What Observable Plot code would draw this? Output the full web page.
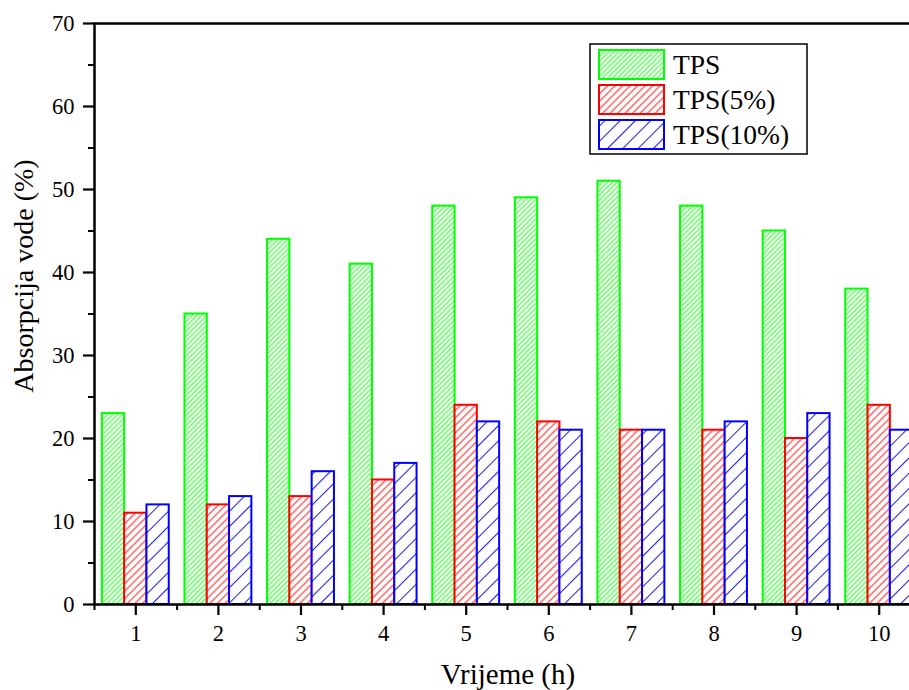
<!DOCTYPE html>
<html><head><meta charset="utf-8">
<script src="https://cdn.jsdelivr.net/npm/d3@7"></script>
<script src="https://cdn.jsdelivr.net/npm/@observablehq/plot@0.6"></script>
<style>html,body{margin:0;padding:0;overflow:hidden;background:#fff;width:909px;height:690px}
#chart svg{max-width:none !important;width:930px;height:690px}
#chart text{font-family:'Liberation Serif','Times New Roman',serif}</style>
</head><body><div id="chart"></div>
<script>
const hours = [1, 2, 3, 4, 5, 6, 7, 8, 9, 10];
const tps = [23, 35, 44, 41, 48, 49, 51, 48, 45, 38];
const tps5 = [11, 12, 13, 15, 24, 22, 21, 21, 20, 24];
const tps10 = [12, 13, 16, 17, 22, 21, 21, 22, 23, 21];
const seriesNames = ["TPS", "TPS(5%)", "TPS(10%)"];
const seriesColors = ["#00ff00", "#ff0000", "#0000ff"];
const hatchSpacing = [3.5, 5.3, 10.8];
const yTicks = [0, 10, 20, 30, 40, 50, 60, 70];
const yMinor = [5, 15, 25, 35, 45, 55, 65];
const xMinor = [0.5, 1.5, 2.5, 3.5, 4.5, 5.5, 6.5, 7.5, 8.5, 9.5, 10.5];
const xLabel = "Vrijeme (h)";
const yLabel = "Absorpcija vode (%)";

const barW = 0.27;
const seriesRows = [tps, tps5, tps10].map((vals, k) =>
  vals.map((v, i) => ({hour: hours[i], value: v,
    x1: hours[i] - 1.5 * barW + k * barW, x2: hours[i] - 1.5 * barW + (k + 1) * barW})));

const font = "'Liberation Serif', 'Times New Roman', serif";

const chart = Plot.plot({
  width: 930, height: 690,
  marginLeft: 94, marginRight: 10, marginTop: 23, marginBottom: 86,
  style: {fontFamily: font, background: "#fff", color: "#000", overflow: "visible", maxWidth: "none"},
  x: {type: "linear", domain: [0.5, 10.5]},
  y: {domain: [0, 70]},
  marks: [
    ...seriesRows.map((rows, k) => Plot.rectY(rows, {
      x1: "x1", x2: "x2", y1: 0, y2: "value",
      fill: `url(#hatch${k})`, stroke: seriesColors[k], strokeWidth: 2
    })),
    Plot.frame({stroke: "#000", strokeWidth: 2.5}),
    Plot.axisY({ticks: yTicks, tickSize: 11, tickPadding: 9, fontSize: 22.5, strokeWidth: 2.2, label: null, tickFormat: d => String(d)}),
    Plot.axisY({ticks: yMinor, tickSize: 6, text: null, strokeWidth: 2, label: null}),
    Plot.axisX({ticks: hours, tickSize: 11, tickPadding: 10, fontSize: 22.5, strokeWidth: 2.2, label: null, tickFormat: d => String(d)}),
    Plot.axisX({ticks: xMinor, tickSize: 6, text: null, strokeWidth: 2, label: null})
  ]
});

document.getElementById("chart").appendChild(chart);
const svg = d3.select(chart);
const defs = svg.insert("defs", ":first-child");
seriesColors.forEach((c, k) => {
  const p = hatchSpacing[k];
  const pat = defs.append("pattern").attr("id", `hatch${k}`)
    .attr("patternUnits", "userSpaceOnUse").attr("width", p).attr("height", p)
    .attr("patternTransform", "rotate(45)");
  pat.append("rect").attr("width", p).attr("height", p).attr("fill", "#fff");
  pat.append("line").attr("x1", p / 2).attr("y1", -1).attr("x2", p / 2).attr("y2", p + 1)
    .attr("stroke", c).attr("stroke-width", 0.9);
});

// axis titles
svg.append("text").attr("transform", "translate(27,276) rotate(-90)")
  .attr("text-anchor", "middle").attr("dominant-baseline", "middle")
  .attr("font-size", 28).attr("fill", "#000").text(yLabel);
svg.append("text").attr("x", 508).attr("y", 684)
  .attr("text-anchor", "middle").attr("font-size", 29)
  .attr("fill", "#000").text(xLabel);

// legend
const lg = svg.append("g").attr("text-anchor", "start");
lg.append("rect").attr("x", 590).attr("y", 44).attr("width", 217).attr("height", 110)
  .attr("fill", "#fff").attr("stroke", "#000").attr("stroke-width", 1.5);
seriesNames.forEach((name, k) => {
  const y0 = 50 + k * 35;
  lg.append("rect").attr("x", 599).attr("y", y0).attr("width", 65).attr("height", 29)
    .attr("fill", `url(#hatch${k})`).attr("stroke", seriesColors[k]).attr("stroke-width", 2);
  lg.append("text").attr("x", 673).attr("y", y0 + 24).attr("text-anchor", "start")
    .attr("font-size", 27.5).attr("fill", "#000").text(name);
});
</script></body></html>
